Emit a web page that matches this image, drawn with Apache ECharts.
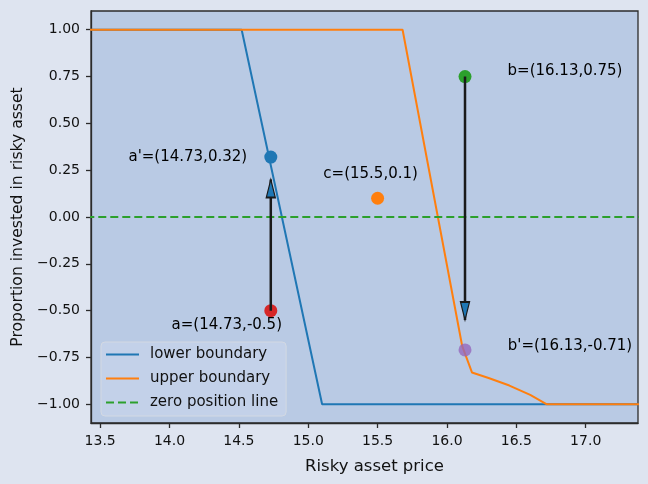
<!DOCTYPE html>
<html>
<head>
<meta charset="utf-8">
<script src="https://cdn.jsdelivr.net/npm/echarts@6/dist/echarts.min.js"></script>
<style>
html,body{margin:0;padding:0;background:#dee4f0;}
#chart{width:648px;height:484px;}
</style>
</head>
<body>
<div id="chart"></div>
<script>
// boundaries
var lowerX = [13.40, 14.52, 15.10, 17.40];
var lowerY = [1.00, 1.00, -1.00, -1.00];
var upperX = [13.40, 15.68, 16.11, 16.15, 16.18, 16.30, 16.45, 16.60, 16.72, 17.40];
var upperY = [1.00, 1.00, -0.69, -0.77, -0.83, -0.86, -0.90, -0.95, -1.00, -1.00];
var zeroX = [13.40, 17.40];
var zeroY = [0, 0];

// labelled points
var pointX = [14.73, 15.5, 16.13, 14.73, 16.13];
var pointY = [0.32, 0.1, 0.75, -0.5, -0.71];
var pointText = ["a'=(14.73,0.32)", 'c=(15.5,0.1)', 'b=(16.13,0.75)', 'a=(14.73,-0.5)', "b'=(16.13,-0.71)"];

// arrows: start -> tip
var arrowX = [14.73, 16.13];
var arrowFromY = [-0.5, 0.75];
var arrowToY = [0.20, -0.55];

var xTicks = [13.5, 14.0, 14.5, 15.0, 15.5, 16.0, 16.5, 17.0];
var yTicks = [-1.00, -0.75, -0.50, -0.25, 0.00, 0.25, 0.50, 0.75, 1.00];

var seriesNames = ['lower boundary', 'upper boundary', 'zero position line'];

// styles / layout
var pointColors = ['#1f77b4', '#ff7f0e', '#2ca02c', '#d62728', 'rgba(148,103,189,0.78)'];
var labelOffsets = [[-83, 0], [-7, -24], [100, -5], [-44, 14], [105, -4]];

var FONT = 'DejaVu Sans';

function pairs(xs, ys) {
    var out = [];
    for (var i = 0; i < xs.length; i++) out.push([xs[i], ys[i]]);
    return out;
}
function minus(s) { return s.replace('-', '\u2212'); }

var series = [
    {
        name: seriesNames[0], type: 'line', data: pairs(lowerX, lowerY),
        symbol: 'none', lineStyle: {color: '#1f77b4', width: 2}, itemStyle: {color: '#1f77b4'}
    },
    {
        name: seriesNames[1], type: 'line', data: pairs(upperX, upperY),
        symbol: 'none', lineStyle: {color: '#ff7f0e', width: 2}, itemStyle: {color: '#ff7f0e'}
    },
    {
        name: seriesNames[2], type: 'line', data: pairs(zeroX, zeroY),
        symbol: 'none', lineStyle: {color: '#2ca02c', width: 2, type: [8, 4]}, itemStyle: {color: '#2ca02c'}
    }
];

var pts = [];
for (var i = 0; i < pointX.length; i++) {
    pts.push({
        value: [pointX[i], pointY[i]],
        itemStyle: {color: pointColors[i], opacity: 1},
        label: {
            show: true, position: 'inside', offset: labelOffsets[i],
            formatter: pointText[i], color: '#000', fontSize: 15, fontFamily: FONT
        }
    });
}
series.push({type: 'scatter', data: pts, symbolSize: 13, z: 3, itemStyle: {opacity: 1}});

for (var j = 0; j < arrowX.length; j++) {
    var up = arrowToY[j] > arrowFromY[j];
    series.push({
        type: 'line', data: [[arrowX[j], arrowFromY[j]], [arrowX[j], arrowToY[j]]],
        symbol: 'none', lineStyle: {color: '#1a1a1a', width: 2.5}, z: 4
    });
    series.push({
        type: 'scatter', data: [[arrowX[j], arrowToY[j]]],
        symbol: 'triangle', symbolSize: [9, 18], symbolRotate: up ? 0 : 180,
        symbolOffset: [0, up ? 9 : -9],
        itemStyle: {color: '#1f77b4', borderColor: '#1a1a1a', borderWidth: 1.5, opacity: 1}, z: 5
    });
}

var chart = echarts.init(document.getElementById('chart'));
chart.setOption({
    backgroundColor: '#dee4f0',
    animation: false,
    textStyle: {fontFamily: FONT},
    grid: {
        left: 91, right: 10, top: 11, bottom: 61, show: true,
        backgroundColor: '#b9cae4', borderColor: '#2b2b2b', borderWidth: 1.3
    },
    legend: {
        data: seriesNames, orient: 'vertical', left: 101, top: 342,
        itemWidth: 33, itemHeight: 14, itemGap: 9, padding: [5, 8, 6, 4],
        itemStyle: {opacity: 0},
        backgroundColor: 'rgba(196,210,234,0.85)', borderColor: '#d3d9e3', borderWidth: 1, borderRadius: 4,
        textStyle: {fontSize: 15, color: '#111', fontFamily: FONT, padding: [0, 0, 0, 6]}
    },
    xAxis: {
        type: 'value', min: 13.434, max: 17.377,
        name: 'Risky asset price', nameLocation: 'middle', nameGap: 35,
        nameTextStyle: {fontSize: 16.5, color: '#111', fontFamily: FONT, padding: [0, 0, 0, 20]},
        axisLine: {show: true, onZero: false, lineStyle: {color: '#2b2b2b', width: 1.3}},
        axisTick: {show: true, length: 5, customValues: xTicks, lineStyle: {color: '#2b2b2b', width: 1.3}},
        axisLabel: {
            customValues: xTicks, margin: 11, fontSize: 14, color: '#111', fontFamily: FONT,
            formatter: function (v) { return v.toFixed(1); }
        },
        splitLine: {show: false}
    },
    yAxis: {
        type: 'value', min: -1.1, max: 1.1,
        name: 'Proportion invested in risky asset', nameLocation: 'middle', nameGap: 64,
        nameTextStyle: {fontSize: 15.6, color: '#111', fontFamily: FONT},
        axisLine: {show: true, onZero: false, lineStyle: {color: '#2b2b2b', width: 1.3}},
        axisTick: {show: true, length: 5, customValues: yTicks, lineStyle: {color: '#2b2b2b', width: 1.3}},
        axisLabel: {
            customValues: yTicks, margin: 11, fontSize: 14, color: '#111', fontFamily: FONT,
            formatter: function (v) { return minus(v.toFixed(2)); }
        },
        splitLine: {show: false}
    },
    series: series
});
</script>
</body>
</html>
